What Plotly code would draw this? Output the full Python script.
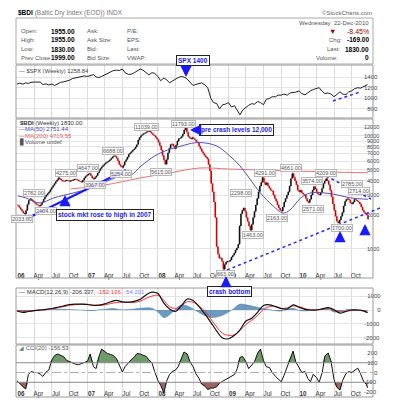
import plotly.graph_objects as go
import pandas as pd

W, H = 393, 400

# ---------------- DATA ----------------
# Weekly BDI closes, Fridays from 2006-01-06 to 2010-12-24 (52 per year)
bdi_2006 = [2430, 2330, 2250, 2160, 2080, 2040, 2200, 2480, 2700, 2782, 2720, 2650, 2580,
            2520, 2460, 2420, 2404, 2480, 2600, 2750, 2900, 3000, 3100, 3200, 3350, 3500,
            3650, 3800, 3950, 4100, 4275, 4150, 4050, 4000, 3980, 4020, 4050, 4010, 3980,
            4000, 4050, 4100, 4150, 4120, 4080, 4000, 3950, 3900, 4050, 4250, 4400, 4500]
bdi_2007 = [4600, 4647, 4450, 4250, 4150, 4300, 4450, 4700, 4950, 5150, 5350, 5500, 5650,
            5800, 5900, 6000, 6150, 6350, 6550, 6688, 6600, 6350, 6000, 5600, 5400, 5254,
            5500, 5900, 6200, 6500, 6900, 7100, 7300, 7500, 7700, 8000, 8400, 9200, 9700,
            10100, 10300, 10500, 10650, 10850, 10950, 11039, 10800, 10500, 10200, 10050, 9650, 9300]
bdi_2008 = [8800, 8200, 7500, 6700, 6100, 5615, 6200, 7100, 7800, 8400, 8500, 8100, 7700,
            8300, 9000, 9500, 9600, 9900, 10400, 11300, 11793, 10800, 9900, 9600, 9400, 9700,
            9500, 9200, 8900, 8700, 8100, 7700, 7300, 7000, 6700, 6500, 6300, 5600, 4900,
            3800, 3200, 2600, 1900, 1050, 900, 830, 830, 775, 663, 730, 770, 774]
bdi_2009 = [774, 800, 850, 880, 920, 980, 1020, 1100, 1600, 2050, 2200, 2298, 2150,
            1900, 1750, 1600, 1463, 1650, 1900, 2150, 2450, 2800, 3200, 3600, 3900, 4291,
            3900, 3700, 3850, 3600, 3450, 3300, 3250, 3000, 2800, 2650, 2450, 2300, 2200,
            2163, 2350, 2600, 2800, 3000, 3200, 3600, 4200, 4661, 4300, 4000, 3700, 3300]
bdi_2010 = [3200, 3300, 3150, 3050, 3000, 2800, 2650, 2571, 2750, 3000, 3300, 3574, 3400,
            3200, 3050, 3000, 3150, 3450, 3800, 4000, 4209, 4000, 3700, 3300, 2900, 2500,
            2200, 1950, 1750, 1700, 1800, 1950, 2100, 2400, 2650, 2750, 2785, 2700, 2550,
            2500, 2600, 2750, 2714, 2650, 2600, 2500, 2350, 2200, 2100, 2050, 1999, 1830]
bdi_close = bdi_2006 + bdi_2007 + bdi_2008 + bdi_2009 + bdi_2010

# moving averages
ma50_dates = ["2006-01-06", "2006-02-15", "2006-05-01", "2006-07-10", "2006-10-20", "2007-01-20",
              "2007-04-15", "2007-06-25", "2007-08-15", "2007-10-05", "2007-12-15", "2008-02-20",
              "2008-05-01", "2008-07-10", "2008-08-25", "2008-11-01", "2009-01-01", "2009-03-01",
              "2009-04-25", "2009-06-15", "2009-08-20", "2009-10-10", "2009-11-15", "2010-01-10",
              "2010-03-01", "2010-05-15", "2010-07-20", "2010-09-25", "2010-12-24"]
ma50_vals = [2950, 2830, 2550, 2830, 3130, 3460, 4000, 4430, 4520, 5400, 6640, 7500,
             8150, 8700, 8700, 8150, 6800, 5430, 4080, 3130, 2400, 2080, 2210, 2830,
             3130, 3130, 3000, 2830, 2751]
ma200_dates = ["2006-10-06", "2007-04-01", "2007-10-01", "2008-03-01", "2008-08-01", "2009-01-01",
               "2009-06-01", "2009-12-01", "2010-06-01", "2010-12-24"]
ma200_vals = [3400, 3680, 4250, 4700, 5200, 5100, 5000, 4900, 4800, 4720]

# semi-monthly dates (1st and 15th) plus the last day
half_dates = [f"{y}-{m:02d}-{d:02d}" for y in range(2006, 2011) for m in range(1, 13) for d in (1, 15)] + ["2010-12-22"]
spx_vals = [1268, 1285, 1265, 1290, 1280, 1300, 1305, 1310, 1305, 1260, 1270, 1250,
            1270, 1240, 1280, 1300, 1310, 1320, 1340, 1370, 1380, 1400, 1405, 1420,
            1410, 1430, 1445, 1400, 1390, 1410, 1440, 1480, 1500, 1520, 1530, 1520,
            1550, 1480, 1450, 1450, 1480, 1520, 1550, 1530, 1470, 1440, 1480, 1470,
            1410, 1330, 1380, 1350, 1290, 1320, 1370, 1390, 1410, 1400, 1360, 1300,
            1240, 1260, 1280, 1290, 1250, 1200, 1000, 920, 900, 800, 880, 890,
            920, 840, 860, 770, 690, 780, 840, 870, 900, 890, 940, 920,
            880, 980, 1000, 1030, 1030, 1060, 1060, 1080, 1060, 1100, 1110, 1115,
            1140, 1090, 1065, 1110, 1140, 1165, 1190, 1200, 1130, 1090, 1100, 1080,
            1030, 1070, 1120, 1080, 1070, 1120, 1140, 1180, 1200, 1190, 1220, 1240, 1258.84]
cci_vals = [-85, -110, -150, -170, -20, 10, 0, 0, -15, -40, 5, 25,
            130, 175, 190, 175, 160, 125, 110, 105, 85, 80, 90, 105,
            115, 190, 60, 40, 160, 240, 215, 195, 185, 175, 140, 80,
            5, 60, 100, 130, 160, 195, 190, 180, 165, 130, 100, 10,
            -80, -130, -210, -90, -20, 10, 25, 60, 140, 210, 190, 110,
            60, -10, -60, -120, -140, -175, -160, -160, -145, -110, -90, -75,
            -60, -45, -20, 40, 155, 165, 110, 40, 80, 110, 200, 240,
            120, 60, 50, 0, -40, -70, -95, -30, 60, 150, 220, 110,
            40, 0, 10, -60, -95, -20, -50, -100, 0, 170, 200, 120,
            -70, -150, -180, -80, -10, 10, 0, 20, 45, -10, -90, -120, -156.53]

# monthly MACD values
month_dates = [f"{y}-{m:02d}-01" for y in range(2006, 2011) for m in range(1, 13)] + ["2010-12-22"]
macd_vals = [-75, -175, -110, -50, 0, 50, 110, 200, 300, 400, 430, 425,
             400, 330, 360, 450, 600, 700, 590, 580, 630, 780, 1100, 1300,
             1200, 500, 80, -100, 300, 800, 700, 250, -300, -900, -1550, -2050,
             -2100, -1850, -1450, -800, -600, -150, 330, 380, 250, 100, 80, 380,
             200, 50, 0, 0, 80, 170, 20, -230, -100, 0, 0, -60, -206.337]
signal_vals = [-50, -80, -70, -45, -20, 30, 90, 160, 250, 340, 390, 420,
               420, 370, 330, 380, 470, 550, 560, 550, 560, 650, 850, 1020,
               1070, 700, 250, 120, 300, 600, 560, 300, -100, -650, -1250, -1700,
               -1850, -1800, -1500, -1050, -750, -400, 50, 250, 250, 120, 150, 300,
               250, 100, 30, 0, 60, 120, -50, -130, -80, -40, -30, -80, -152.136]
hist_vals = [-60, -100, -60, -20, 10, 20, 40, 60, 50, 40, 20, 0,
             -30, -50, 20, 60, 100, 80, 20, 30, 70, 120, 160, 120,
             -150, -560, -350, 50, 380, 300, 80, -180, -420, -550, -520, -380,
             -150, 150, 430, 380, 300, 200, 100, 30, -50, -80, 60, 120,
             -30, -70, -20, 20, 60, 80, -150, -100, 20, 50, 20, -30, -54.201]

quarter_ticks = [f"{y}-{m:02d}-01" for y in range(2006, 2011) for m in (1, 4, 7, 10)]
quarter_text = []
for y in range(2006, 2011):
    quarter_text += [f"<b>{str(y)[2:]}</b>", "Apr", "Jul", "Oct"]

peak_labels = [("2033.00", 14, 211), ("2782.00", 26, 185), ("2404.00", 38, 203),
               ("4275.00", 58, 165), ("4647.00", 80, 160), ("3967.00", 87, 177),
               ("6688.00", 105, 143), ("5254.00", 113, 166), ("11039.00", 138, 119),
               ("5615.00", 153, 164), ("11793.00", 175, 116), ("663.00", 217, 266),
               ("2298.00", 233, 185), ("1463.00", 245, 227), ("4291.00", 257, 165),
               ("2163.00", 269, 210), ("4661.00", 283, 160), ("3574.00", 304, 173),
               ("2571.00", 305, 201), ("4209.00", 318, 165), ("1700.00", 334, 220),
               ("2785.00", 344, 176), ("2714.00", 351, 183)]

# ---------------- FIGURE ----------------
bdi_dates = pd.date_range("2006-01-06", periods=len(bdi_close), freq="W-FRI")
bdi_open = [bdi_close[0]] + bdi_close[:-1]
bdi_high = [max(o, c) for o, c in zip(bdi_open, bdi_close)]
bdi_low = [min(o, c) for o, c in zip(bdi_open, bdi_close)]

FONT = "Liberation Sans"
fig = go.Figure()

fig.add_trace(go.Scatter(x=half_dates, y=spx_vals, xaxis="x", yaxis="y", mode="lines",
                         line=dict(color="#222", width=1)))
fig.add_trace(go.Scatter(x=ma200_dates, y=ma200_vals, xaxis="x2", yaxis="y2", mode="lines",
                         line=dict(color="#ee7070", width=1, shape="spline")))
fig.add_trace(go.Scatter(x=ma50_dates, y=ma50_vals, xaxis="x2", yaxis="y2", mode="lines",
                         line=dict(color="#5050c0", width=1, shape="spline")))
fig.add_trace(go.Ohlc(x=bdi_dates, open=bdi_open, high=bdi_high, low=bdi_low, close=bdi_close,
                      xaxis="x2", yaxis="y2", tickwidth=0.3,
                      increasing=dict(line=dict(color="#111", width=1.6)),
                      decreasing=dict(line=dict(color="#d40000", width=1.6))))
fig.add_trace(go.Scatter(x=month_dates, y=hist_vals, xaxis="x3", yaxis="y3", mode="lines",
                         fill="tozeroy", fillcolor="rgba(60,120,170,0.75)",
                         line=dict(color="rgba(60,120,170,0.9)", width=0.5, shape="spline")))
fig.add_trace(go.Scatter(x=month_dates, y=signal_vals, xaxis="x3", yaxis="y3", mode="lines",
                         line=dict(color="#ff3030", width=1, shape="spline")))
fig.add_trace(go.Scatter(x=month_dates, y=macd_vals, xaxis="x3", yaxis="y3", mode="lines",
                         line=dict(color="#111", width=1.2, shape="spline")))
# CCI fills
fig.add_trace(go.Scatter(x=half_dates, y=[100] * len(half_dates), xaxis="x4", yaxis="y4",
                         mode="lines", line=dict(width=0), hoverinfo="skip"))
fig.add_trace(go.Scatter(x=half_dates, y=[max(v, 100) for v in cci_vals], xaxis="x4", yaxis="y4",
                         mode="lines", line=dict(width=0), fill="tonexty", fillcolor="#6f9a6a"))
fig.add_trace(go.Scatter(x=half_dates, y=[-100] * len(half_dates), xaxis="x4", yaxis="y4",
                         mode="lines", line=dict(width=0), hoverinfo="skip"))
fig.add_trace(go.Scatter(x=half_dates, y=[min(v, -100) for v in cci_vals], xaxis="x4", yaxis="y4",
                         mode="lines", line=dict(width=0), fill="tonexty", fillcolor="#a0625c"))
fig.add_trace(go.Scatter(x=half_dates, y=cci_vals, xaxis="x4", yaxis="y4", mode="lines",
                         line=dict(color="#111", width=1)))

XL, XR = 8, 365
xdom = [XL / W, XR / W]
xr = ["2005-12-27", "2011-01-19"]
panels = {"1": (57, 110), "2": (111, 270), "3": (280, 336), "4": (337, 389)}


def ydom(top, bot):
    return [1 - bot / H, 1 - top / H]


xcommon = dict(type="date", range=xr, domain=xdom, showgrid=True, gridcolor="#dcdcdc",
               gridwidth=1, tickvals=quarter_ticks, ticktext=quarter_text, ticks="", ticklen=0,
               showline=False, zeroline=False,
               tickfont=dict(family=FONT, size=6.3, color="#333"), ticklabelshift=4)
YPOS = 355 / W
ycommon = dict(side="right", anchor="free", position=YPOS, showgrid=True, gridcolor="#e4e4e4",
               ticks="", ticklen=0, zeroline=False, showline=False,
               tickfont=dict(family=FONT, size=6, color="#444"))
FS = "\u2007"

fig.update_layout(
    width=W, height=H, margin=dict(l=0, r=0, t=0, b=0),
    paper_bgcolor="white", plot_bgcolor="white", showlegend=False,
    xaxis=dict(xcommon, anchor="y", showticklabels=False),
    yaxis=dict(ycommon, domain=ydom(*panels["1"]), range=[631, 1625],
               tickvals=[800, 1000, 1200, 1400], ticktext=[FS + "800", "1000", "1200", "1400"]),
    xaxis2=dict(xcommon, anchor="free", position=1 - 263 / H, showticklabels=True,
                rangeslider=dict(visible=False)),
    yaxis2=dict(ycommon, domain=ydom(*panels["2"]), type="log", range=[2.743, 4.150],
                tickfont=dict(family=FONT, size=5.5, color="#444"),
                tickvals=[1000, 2000, 3000, 4000, 5000, 6000, 7000, 8000, 9000, 10000, 12000],
                ticktext=[FS + "1000", FS + "2000", FS + "3000", FS + "4000", FS + "5000",
                          FS + "6000", FS + "7000", FS + "8000", FS + "9000", "10000", "12000"]),
    xaxis3=dict(xcommon, anchor="y3", showticklabels=False),
    yaxis3=dict(ycommon, domain=ydom(*panels["3"]), range=[-2482, 1606],
                tickvals=[1000, 0, -1000, -2000], ticktext=[FS + "1000", FS * 4 + "0", "-1000", "-2000"]),
    xaxis4=dict(xcommon, anchor="free", position=1 - 381 / H, showticklabels=True),
    yaxis4=dict(ycommon, domain=ydom(*panels["4"]), range=[-251, 282], showgrid=False,
                tickvals=[200, 100, 0, -100, -200],
                ticktext=[FS + "200", FS + "100", FS * 3 + "0", "-100", "-200"]),
)


def px(x):
    return x / W


def py(y):
    return 1 - y / H


shapes = []
# CCI reference lines
for lvl, dash, col in [(100, "solid", "#8a8a8a"), (-100, "solid", "#8a8a8a"), (0, "dashdot", "#b0b0b0")]:
    shapes.append(dict(type="line", xref="x4 domain", yref="y4", x0=0, x1=1, y0=lvl, y1=lvl,
                       line=dict(color=col, width=1, dash=dash)))
# panel frames
for top, bot in panels.values():
    shapes.append(dict(type="rect", xref="paper", yref="paper", x0=px(XL), x1=px(XR), y0=py(bot), y1=py(top),
                       line=dict(color="#9a9a9a", width=1)))
# header box
shapes.append(dict(type="rect", xref="paper", yref="paper", x0=px(8), x1=px(365), y0=py(56), y1=py(10),
                   line=dict(color="#aaaaaa", width=1)))
# blue trend lines
shapes.append(dict(type="line", xref="paper", yref="paper", x0=px(18), y0=py(211), x1=px(118), y1=py(162),
                   line=dict(color="#1a1aff", width=2)))
shapes.append(dict(type="line", xref="paper", yref="paper", x0=px(219), y0=py(262), x1=px(372), y1=py(200),
                   line=dict(color="#2a2aff", width=1.5, dash="dot")))
shapes.append(dict(type="line", xref="paper", yref="paper", x0=px(318), y0=py(168), x1=px(363), y1=py(191),
                   line=dict(color="#2a2aff", width=1.5, dash="dot")))
shapes.append(dict(type="line", xref="paper", yref="paper", x0=px(325), y0=py(93), x1=px(352), y1=py(84),
                   line=dict(color="#2a2aff", width=1.5, dash="dot")))
fig.update_layout(shapes=shapes)

ann = []


def txt(x, y, s, size=6.5, color="#333", anchor="left", bold=False, family=FONT):
    ann.append(dict(x=px(x), y=py(y), xref="paper", yref="paper", text=(f"<b>{s}</b>" if bold else s),
                    showarrow=False, xanchor=anchor, yanchor="middle", borderpad=0,
                    font=dict(family=family, size=size, color=color)))


# header
txt(9, 5, "<b>$BDI</b> <span style='color:#777'>(Baltic Dry Index (EOD)) INDX</span>", size=6.5, color="#000")
txt(365, 5, "\u00a9StockCharts.com", size=6, color="#666", anchor="right")
rows = [(23, "Open:", "1955.00", "Ask:", "P/E:"), (32, "High:", "1955.00", "Ask Size:", "EPS:"),
        (41, "Low:", "1830.00", "Bid:", "Last:"), (49.5, "Prev Close:", "1999.00", "Bid Size:", "VWAP:")]
for y, a, b, c, d in rows:
    txt(12, y, a, size=6, color="#555")
    txt(68, y, b, size=6.5, color="#000", anchor="right", bold=True)
    txt(78, y, c, size=6, color="#555")
    txt(118, y, d, size=6, color="#555")
txt(362, 15, "Wednesday  22-Dec-2010", size=6, color="#555", anchor="right")
txt(362, 23, "-8.45%", size=7, color="#a00000", anchor="right")
txt(324, 23, "\u25bc", size=7.5, color="#a00000", anchor="center")
txt(320, 32, "Chg:", size=6, color="#555")
txt(362, 32, "-169.00", size=6.5, color="#000", anchor="right", bold=True)
txt(318, 41, "Last:", size=6, color="#555")
txt(362, 41, "1830.00", size=6.5, color="#000", anchor="right", bold=True)
txt(307, 49.5, "Volume:", size=6, color="#555")
txt(362, 49.5, "0", size=6.5, color="#000", anchor="right", bold=True)

# panel legends
txt(10, 62.5, "\u2014 $SPX (Weekly) 1258.84", size=5.8, color="#444")
txt(11, 115, "<b>$BDI</b> (Weekly) 1830.00", size=6, color="#333")
txt(10, 121, "\u2014MA(50) 2751.44", size=6, color="#4646b8")
txt(10, 128, "\u2014MA(200) 4719.55", size=6, color="#e06060")
txt(10, 134, "\u258aVolume undef", size=6, color="#555")
txt(10, 284, "\u2014 MACD(12,26,9) -206.337, <span style='color:#ff3030'>-152.136, </span>"
             "<span style='color:#8080ff'>-54.201</span>", size=6, color="#333")
txt(10, 340, "<span style='color:#5a8a55'>\u25e2</span> CCI(20) -156.53", size=6, color="#555")

# peak labels
for s, x, y in peak_labels:
    ann.append(dict(x=px(x), y=py(y), xref="paper", yref="paper", text=s, showarrow=False,
                    xanchor="center", yanchor="middle", bgcolor="rgba(255,255,255,0.85)",
                    bordercolor="#b8b8b8", borderwidth=1, borderpad=0,
                    font=dict(family=FONT, size=5.5, color="#555")))

# blue text boxes
for s, x, y in [("SPX 1400", 185, 52), ("pre crash levels 12,000", 228, 122),
                ("stock mkt rose to high in 2007", 97, 207), ("crash bottom", 221, 283)]:
    ann.append(dict(x=px(x), y=py(y), xref="paper", yref="paper", text=f"<b>{s}</b>", showarrow=False,
                    xanchor="center", yanchor="middle", bgcolor="white", bordercolor="#222",
                    borderwidth=1, borderpad=1, font=dict(family=FONT, size=6.5, color="#1a1aee")))

# blue arrows (tip, tail offset)
for x, y, ax, ay in [(178, 69, 0, -11), (57, 187, 0, 12), (182, 122, 10, 0), (218, 268, 0, 10),
                     (332, 223, 0, 10), (357, 216, 0, 10)]:
    ann.append(dict(x=px(x), y=py(y), xref="paper", yref="paper", text="", showarrow=True,
                    ax=ax, ay=ay, arrowhead=2, arrowsize=0.7, arrowwidth=3.2, arrowcolor="#1a1aff"))

fig.update_layout(annotations=ann)
fig.write_html("out.html")
